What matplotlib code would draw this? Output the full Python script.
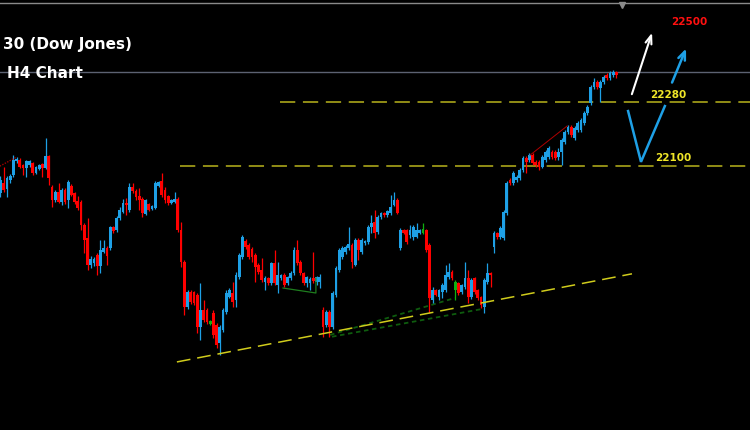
import numpy as np
import matplotlib
matplotlib.use("Agg")
import matplotlib.pyplot as plt

# H4 candles (index points)
opens = [22025, 22053, 22036, 22061, 22075, 22115, 22118, 22103, 22095, 22103,
         22109, 22081, 22092, 22106, 22095, 22129, 22041, 22005, 22027, 21999,
         22033, 22005, 22044, 22025, 22002, 21999, 21935, 21898, 21822, 21828,
         21850, 21819, 21859, 21870, 21870, 21929, 21921, 21954, 21971, 21997,
         21977, 22041, 22030, 22016, 22008, 21966, 21994, 21980, 21982, 22044,
         22058, 22033, 22016, 21997, 21999, 22008, 21921, 21831, 21704, 21746,
         21746, 21738, 21648, 21696, 21696, 21665, 21687, 21653, 21603, 21639,
         21690, 21732, 21743, 21724, 21788, 21845, 21890, 21878, 21867, 21850,
         21822, 21808, 21774, 21786, 21772, 21828, 21766, 21786, 21794, 21772,
         21786, 21800, 21864, 21831, 21800, 21772, 21772, 21786, 21774, 21774,
         21696, 21653, 21690, 21648, 21738, 21808, 21845, 21859, 21870, 21878,
         21822, 21892, 21859, 21884, 21887, 21929, 21943, 21915, 21957, 21968,
         21963, 21968, 21991, 22005, 21870, 21921, 21921, 21906, 21901, 21901,
         21912, 21912, 21921, 21878, 21724, 21752, 21732, 21746, 21752, 21788,
         21802, 21774, 21772, 21746, 21760, 21786, 21732, 21786, 21752, 21732,
         21704, 21774, 21800, 21873, 21912, 21901, 21898, 21968, 22061, 22053,
         22061, 22067, 22089, 22123, 22118, 22131, 22112, 22112, 22098, 22118,
         22126, 22140, 22140, 22126, 22140, 22168, 22196, 22210, 22179, 22202,
         22202, 22221, 22250, 22278, 22323, 22337, 22320, 22337, 22356, 22348,
         22356, 22365]
highs = [22072, 22098, 22072, 22078, 22131, 22126, 22123, 22106, 22118, 22118,
         22112, 22101, 22106, 22109, 22179, 22131, 22047, 22033, 22053, 22039,
         22039, 22061, 22050, 22027, 22016, 22005, 21940, 21954, 21847, 21845,
         21856, 21892, 21892, 21876, 21932, 21932, 21960, 21985, 22008, 22011,
         22053, 22053, 22036, 22039, 22013, 22008, 21997, 21991, 22058, 22058,
         22081, 22041, 22019, 22008, 22027, 22013, 21943, 21836, 21752, 21752,
         21749, 21743, 21772, 21724, 21701, 21668, 21696, 21659, 21653, 21701,
         21752, 21758, 21774, 21802, 21856, 21906, 21895, 21884, 21873, 21856,
         21828, 21842, 21791, 21788, 21831, 21864, 21831, 21797, 21800, 21791,
         21805, 21873, 21892, 21836, 21802, 21791, 21788, 21859, 21791, 21797,
         21704, 21696, 21696, 21749, 21819, 21870, 21876, 21878, 21929, 21884,
         21898, 21898, 21898, 21892, 21935, 21963, 21977, 21963, 21971, 21971,
         21977, 22019, 22027, 22011, 21926, 21924, 21924, 21935, 21935, 21940,
         21924, 21940, 21924, 21884, 21760, 21755, 21755, 21772, 21822, 21828,
         21808, 21780, 21774, 21769, 21831, 21808, 21786, 21788, 21755, 21735,
         21786, 21828, 21802, 21918, 21915, 21932, 21977, 22058, 22067, 22087,
         22075, 22095, 22129, 22129, 22137, 22137, 22118, 22118, 22131, 22146,
         22157, 22146, 22146, 22151, 22179, 22202, 22216, 22216, 22213, 22227,
         22236, 22255, 22272, 22328, 22348, 22342, 22342, 22356, 22362, 22368,
         22371, 22368]
lows = [22013, 22027, 22013, 22053, 22070, 22109, 22095, 22075, 22070, 22098,
        22075, 22078, 22089, 22070, 22092, 22047, 21985, 21999, 21997, 21991,
        21994, 21982, 22016, 21994, 21977, 21921, 21856, 21808, 21814, 21819,
        21794, 21800, 21856, 21822, 21864, 21912, 21915, 21949, 21968, 21963,
        21971, 22025, 22005, 21977, 21957, 21963, 21974, 21977, 21980, 22041,
        22013, 21997, 21991, 21994, 21997, 21915, 21817, 21682, 21699, 21713,
        21710, 21631, 21611, 21662, 21656, 21653, 21617, 21589, 21569, 21634,
        21684, 21729, 21704, 21704, 21783, 21839, 21867, 21839, 21831, 21774,
        21797, 21774, 21752, 21766, 21766, 21766, 21743, 21780, 21760, 21766,
        21780, 21794, 21822, 21794, 21766, 21760, 21752, 21772, 21766, 21758,
        21620, 21648, 21620, 21642, 21732, 21802, 21839, 21853, 21864, 21814,
        21819, 21836, 21853, 21878, 21881, 21912, 21898, 21909, 21952, 21957,
        21957, 21963, 21988, 21966, 21864, 21909, 21881, 21898, 21892, 21898,
        21909, 21909, 21859, 21687, 21715, 21735, 21724, 21729, 21746, 21783,
        21780, 21724, 21738, 21741, 21755, 21715, 21727, 21741, 21724, 21701,
        21687, 21769, 21760, 21856, 21895, 21895, 21892, 21963, 22047, 22047,
        22056, 22061, 22084, 22081, 22112, 22103, 22098, 22089, 22095, 22112,
        22120, 22120, 22118, 22118, 22103, 22163, 22191, 22182, 22174, 22196,
        22196, 22216, 22244, 22272, 22317, 22317, 22281, 22331, 22342, 22342,
        22351, 22348]
closes = [22061, 22033, 22067, 22072, 22118, 22120, 22098, 22095, 22115, 22115,
          22081, 22098, 22103, 22095, 22129, 22067, 22005, 22027, 21999, 22033,
          21999, 22056, 22019, 21999, 21982, 21935, 21892, 21822, 21839, 21839,
          21819, 21864, 21870, 21847, 21929, 21918, 21954, 21977, 21997, 21991,
          22041, 22030, 22013, 22005, 21968, 22005, 21977, 21988, 22053, 22056,
          22019, 22005, 21997, 22005, 22008, 21921, 21831, 21704, 21746, 21718,
          21715, 21648, 21696, 21668, 21662, 21656, 21625, 21597, 21648, 21696,
          21743, 21752, 21718, 21794, 21850, 21901, 21873, 21845, 21845, 21817,
          21802, 21780, 21786, 21772, 21828, 21772, 21794, 21794, 21766, 21788,
          21800, 21864, 21828, 21800, 21772, 21788, 21783, 21777, 21788, 21788,
          21648, 21690, 21648, 21743, 21814, 21864, 21870, 21873, 21881, 21831,
          21892, 21864, 21892, 21890, 21929, 21940, 21912, 21957, 21968, 21963,
          21974, 21985, 22005, 21968, 21921, 21912, 21887, 21921, 21929, 21921,
          21921, 21924, 21864, 21729, 21752, 21738, 21752, 21766, 21794, 21802,
          21786, 21752, 21743, 21766, 21786, 21732, 21780, 21746, 21729, 21710,
          21780, 21800, 21794, 21912, 21901, 21926, 21971, 22053, 22053, 22081,
          22070, 22089, 22123, 22112, 22131, 22109, 22103, 22098, 22126, 22140,
          22151, 22126, 22123, 22140, 22174, 22196, 22210, 22188, 22207, 22221,
          22230, 22250, 22266, 22323, 22337, 22323, 22337, 22351, 22348, 22362,
          22365, 22356]
green_bars = [65, 131, 141]

# drawn objects (candle index, price)
support_x = [54.7, 195.8]
support_y = [21549, 21797]
level_hi, level_hi_from = 22280, 86.7
level_lo, level_lo_from = 22100, 55.7
price_line = 22364
white_x = [195.5, 202.3]
white_y = [22295, 22483]
blue_v_x = [194.6, 198.6, 206.0]
blue_v_y = [22255, 22112, 22269]
blue_arrow_x = [207.9, 212.9]
blue_arrow_y = [22328, 22438]
red_x1, red_y1 = [-0.2, 5.1], [22100, 22126]
red_x2, red_y2 = [164.2, 175.7], [22131, 22213]
green_box_x = [87.6, 97.8, 97.8]
green_box_y = [21757, 21743, 21785]
fan_x1, fan_y1 = [102.2, 140.9], [21625, 21729]
fan_x2, fan_y2 = [102.8, 149.3], [21620, 21698]

BLUE = '#1ea0e6'
RED = '#ff0000'

fig = plt.figure(figsize=(7.5, 4.3), dpi=100, facecolor='black')
ax = fig.add_axes([0, 0, 1, 1])
ax.set_facecolor('black')

o = np.array(opens, dtype=float)
h = np.array(highs, dtype=float)
l = np.array(lows, dtype=float)
c = np.array(closes, dtype=float)
idx = np.arange(len(o))
cols = np.where(c >= o, BLUE, RED).astype(object)
for g in green_bars:
    cols[g] = '#10b010'

ax.vlines(idx, l, h, colors=list(cols), linewidth=0.9, zorder=3)
bottom = np.minimum(o, c)
height = np.maximum(np.abs(c - o), 3.0)
ax.bar(idx, height, bottom=bottom, width=0.86, color=list(cols), linewidth=0, zorder=4)

# levels and trend lines
ax.axhline(price_line, color='#5c6272', linewidth=1.0, zorder=1)
ax.axhline(22560, color='#8a8a8a', linewidth=1.0, zorder=1)
ax.plot([192.7], [22553], marker='v', color='#8a8a8a', markersize=5, zorder=2)

olive = '#b8b41c'
ax.plot([level_hi_from, 240], [level_hi, level_hi], color=olive, linewidth=1.1,
        dashes=(10, 5), zorder=2)
ax.plot([level_lo_from, 240], [level_lo, level_lo], color=olive, linewidth=1.1,
        dashes=(10, 5), zorder=2)
ax.plot(support_x, support_y, color='#d0cc1c', linewidth=1.1, dashes=(9, 4.5), zorder=5)

ax.plot(red_x1, red_y1, color='#a00000', linewidth=1.0, linestyle=(0, (1, 1)), zorder=5)
ax.plot(red_x2, red_y2, color='#b00000', linewidth=0.7, zorder=5)
ax.plot(green_box_x, green_box_y, color='#1e7d1e', linewidth=0.9, zorder=5)
ax.plot(fan_x1, fan_y1, color='#0e5c0e', linewidth=1.3, linestyle=(0, (2.5, 2)), zorder=2)
ax.plot(fan_x2, fan_y2, color='#0e5c0e', linewidth=1.3, linestyle=(0, (2.5, 2)), zorder=2)

# projected path
ax.annotate('', xy=(white_x[1], white_y[1]), xytext=(white_x[0], white_y[0]),
            arrowprops=dict(arrowstyle='->, head_length=0.6, head_width=0.22',
                            color='white', linewidth=1.5), zorder=6)
ax.plot(blue_v_x, blue_v_y, color=BLUE, linewidth=1.8, solid_joinstyle='miter', zorder=6)
ax.annotate('', xy=(blue_arrow_x[1], blue_arrow_y[1]),
            xytext=(blue_arrow_x[0], blue_arrow_y[0]),
            arrowprops=dict(arrowstyle='->, head_length=0.6, head_width=0.25',
                            color=BLUE, linewidth=1.8), zorder=6)

lab = dict(fontsize=7.5, fontweight='bold', ha='center', va='center', zorder=7)
ax.text(213.5, 22506, '22500', color='#ff1010', **lab)
ax.text(207.1, 22300, '22280', color='#f0e628', **lab)
ax.text(208.7, 22122, '22100', color='#f0e628', **lab)

fig.text(3 / 750, 1 - 45 / 430, '30 (Dow Jones)', color='white', fontsize=11,
         fontweight='bold', ha='left', va='center')
fig.text(7 / 750, 1 - 74 / 430, 'H4 Chart', color='white', fontsize=11,
         fontweight='bold', ha='left', va='center')

ax.set_xlim(-0.15, 232.4)
ax.set_ylim(21357.5, 22567.5)
ax.axis('off')

fig.savefig('out.png', dpi=100, facecolor='black')
